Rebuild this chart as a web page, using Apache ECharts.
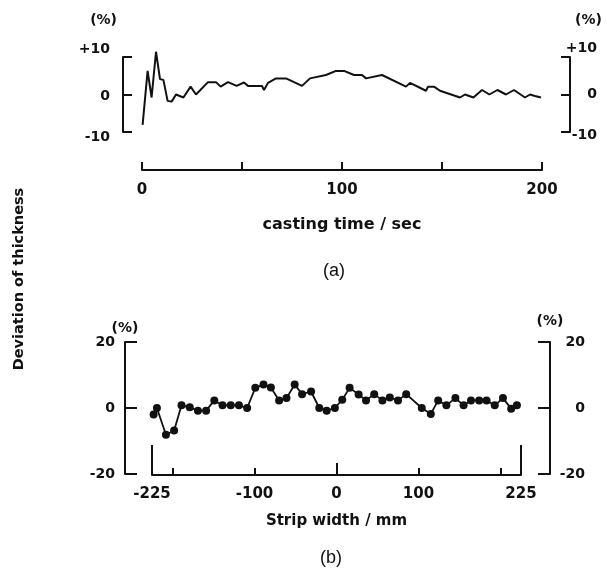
<!DOCTYPE html>
<html>
<head>
<meta charset="utf-8">
<script src="https://cdn.jsdelivr.net/npm/echarts@6/dist/echarts.min.js"></script>
<style>
  html, body { margin: 0; padding: 0; background: #fff; }
  #chart { width: 607px; height: 578px; }
</style>
</head>
<body>
<div id="chart"></div>
<script>
// (a) thickness deviation vs casting time
const castingTime = [0.3, 2.8, 4.8, 7, 9, 10.7, 12.8, 14.8, 17, 20.7, 24.3, 27, 33, 37, 39.3, 43, 47.3, 51, 53, 60, 61, 63, 67, 72, 80, 84, 92, 97, 101, 106, 110, 112, 120, 132, 134, 142, 143, 146, 149, 159, 161.5, 165.7, 170, 173.7, 177.7, 182, 186, 191.5, 194, 196.5, 199.5];
const deviationA = [-8.1, 6.3, -0.8, 11.4, 4.1, 3.9, -1.7, -1.9, 0, -0.8, 2.1, 0, 3.3, 3.3, 2.1, 3.3, 2.3, 3.2, 2.3, 2.3, 1.2, 3.1, 4.3, 4.3, 2.3, 4.3, 5.2, 6.3, 6.3, 5.2, 5.2, 4.3, 5.2, 2.1, 3.1, 1, 2.1, 2.1, 1, -0.8, 0, -0.8, 1.2, 0, 1.2, 0, 1.2, -0.8, 0, -0.4, -0.8];

// (b) thickness deviation across strip width
const stripWidth = [-223, -219, -208, -198, -189, -179, -169, -159, -149, -139, -129, -119, -109, -99, -89, -80, -70, -61, -51, -42, -31, -21, -12, -2, 7, 16, 27, 36, 46, 56, 65, 75, 85, 104, 115, 124, 134, 145, 155, 164, 174, 183, 193, 203, 213, 220];
const deviationB = [-2, 0, -8.1, -6.8, 0.8, 0.2, -0.8, -0.8, 2.3, 0.8, 0.8, 0.8, 0, 6.1, 7.1, 6.2, 2.3, 3, 7.1, 4.2, 5, 0, -0.8, 0, 2.5, 6.1, 4.1, 2.3, 4.2, 2.3, 3.2, 2.3, 4.2, 0, -1.8, 2.3, 0.8, 3, 0.8, 2.3, 2.3, 2.3, 0.8, 3, -0.2, 0.8];

// ticks / labels
const xTicksA = [0, 50, 100, 150, 200];
const xLabelsA = [0, 100, 200];
const xTicksB = [-200, -100, 100, 200];
const xEdgeTicksB = [-225, 225];
const xCenterTickB = [0];
const xLabelsB = [-225, -100, 0, 100, 225];

const INK = '#111';
const FONT = 'DejaVu Sans';
const tickFont = { color: INK, fontFamily: FONT, fontWeight: 'bold', fontSize: 15 };
const yFont = { color: INK, fontFamily: FONT, fontWeight: 'bold', fontSize: 14 };

const chart = echarts.init(document.getElementById('chart'));

function bracketY(grid, pos, offset, range, tickLen, label, name){
  return {
    type: 'value', gridIndex: grid, position: pos, offset: offset,
    min: -range, max: range, interval: range,
    axisLine: { show: true, onZero: false, lineStyle: { color: INK, width: 2 } },
    axisTick: { show: true, inside: true, length: tickLen, lineStyle: { color: INK, width: 2 } },
    axisLabel: label,
    splitLine: { show: false },
    name: '(%)', nameLocation: 'end', nameGap: name.gap,
    nameTextStyle: Object.assign({}, yFont, { align: name.align, padding: name.padding })
  };
}

function richSet(up, mid, dn){
  return {
    up: Object.assign({}, yFont, { padding: up }),
    mid: Object.assign({}, yFont, { padding: mid }),
    dn: Object.assign({}, yFont, { padding: dn })
  };
}

function fmtA(v){
  if (v > 0) return '{up|+' + v + '}';
  if (v < 0) return '{dn|' + v + '}';
  return '{mid|0}';
}

// extra x axis on grid b that only draws one set of ticks
function tickOnlyX(values, len){
  return {
    type: 'value', gridIndex: 1, position: 'bottom', min: -225, max: 225, offset: 1,
    axisLine: { show: false, onZero: false },
    axisTick: { inside: true, length: len, customValues: values, lineStyle: { color: INK, width: 2 } },
    axisLabel: { show: false }, splitLine: { show: false }
  };
}

const option = {
  animation: false,
  backgroundColor: '#fff',
  grid: [
    { left: 142, top: 57, width: 400, height: 75 },
    { left: 152, top: 342, width: 369, height: 132 }
  ],
  xAxis: [
    {
      type: 'value', gridIndex: 0, position: 'bottom', min: 0, max: 200, offset: 38,
      axisLine: { onZero: false, lineStyle: { color: INK, width: 2 } },
      axisTick: { inside: true, length: 8, customValues: xTicksA, lineStyle: { color: INK, width: 2 } },
      axisLabel: Object.assign({ customValues: xLabelsA, margin: 13 }, tickFont),
      splitLine: { show: false },
      name: 'casting time / sec', nameLocation: 'middle', nameGap: 47,
      nameTextStyle: { color: INK, fontFamily: FONT, fontWeight: 'bold', fontSize: 16 }
    },
    {
      type: 'value', gridIndex: 1, position: 'bottom', min: -225, max: 225, offset: 1,
      axisLine: { onZero: false, lineStyle: { color: INK, width: 2 } },
      axisTick: { inside: true, length: 7, customValues: xTicksB, lineStyle: { color: INK, width: 2 } },
      axisLabel: Object.assign({ customValues: xLabelsB, margin: 12 }, tickFont),
      splitLine: { show: false },
      name: 'Strip width / mm', nameLocation: 'middle', nameGap: 39,
      nameTextStyle: { color: INK, fontFamily: FONT, fontWeight: 'bold', fontSize: 15 }
    },
    tickOnlyX(xEdgeTicksB, 30),
    tickOnlyX(xCenterTickB, 12)
  ],
  yAxis: [
    bracketY(0, 'left', 19, 10, 9,
      { margin: 13, formatter: fmtA, rich: richSet([0, 0, 16, 0], [3, 0, 0, 0], [10, 0, 0, 0]) },
      { gap: 30, align: 'right', padding: [0, 6, 0, 0] }),
    bracketY(0, 'right', 28, 10, 9,
      { margin: 27, align: 'right', formatter: fmtA, rich: richSet([0, 0, 18, 0], [0, 0, 0, 0], [6, 0, 0, 0]) },
      { gap: 30, align: 'left', padding: [0, 0, 0, 5] }),
    bracketY(1, 'left', 27, 20, 12,
      Object.assign({ margin: 10 }, yFont),
      { gap: 7, align: 'center', padding: 0 }),
    bracketY(1, 'right', 29, 20, 12,
      Object.assign({ margin: 35, align: 'right' }, yFont),
      { gap: 14, align: 'center', padding: 0 })
  ],
  graphic: [
    { type: 'text', x: 334, y: 271, style: { text: '(a)', fill: INK, font: '18px "Liberation Sans"', textAlign: 'center', textVerticalAlign: 'middle' } },
    { type: 'text', x: 331, y: 558, style: { text: '(b)', fill: INK, font: '18px "Liberation Sans"', textAlign: 'center', textVerticalAlign: 'middle' } },
    { type: 'text', x: 19, y: 279, rotation: Math.PI / 2, style: { text: 'Deviation of thickness', fill: INK, font: 'bold 14.5px "DejaVu Sans"', textAlign: 'center', textVerticalAlign: 'middle' } }
  ],
  series: [
    {
      type: 'line', xAxisIndex: 0, yAxisIndex: 0, clip: false,
      data: castingTime.map((t, i) => [t, deviationA[i]]),
      showSymbol: false, lineStyle: { color: INK, width: 2 }
    },
    {
      type: 'line', xAxisIndex: 1, yAxisIndex: 2, clip: false,
      data: stripWidth.map((w, i) => [w, deviationB[i]]),
      symbol: 'circle', symbolSize: 8,
      itemStyle: { color: INK }, lineStyle: { color: INK, width: 1.8 }
    }
  ]
};

chart.setOption(option);
</script>
</body>
</html>
